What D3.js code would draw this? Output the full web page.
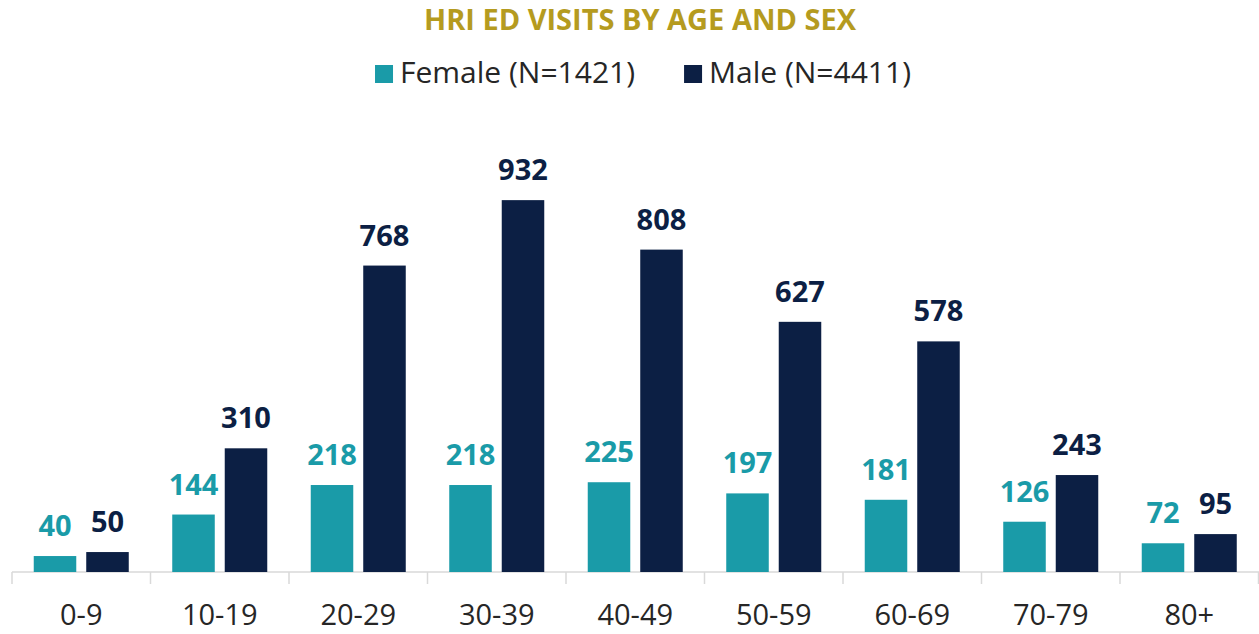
<!DOCTYPE html>
<html>
<head>
<meta charset="utf-8">
<script src="https://cdn.jsdelivr.net/npm/d3@7"></script>
<style>
  html, body { margin: 0; padding: 0; background: #ffffff; }
  svg { display: block; }
</style>
</head>
<body>
<svg id="chart" width="1259" height="634"></svg>
<script>
const title = "HRI ED VISITS BY AGE AND SEX";
const categories = ["0-9", "10-19", "20-29", "30-39", "40-49", "50-59", "60-69", "70-79", "80+"];
const seriesNames = ["Female (N=1421)", "Male (N=4411)"];
const femaleValues = [40, 144, 218, 218, 225, 197, 181, 126, 72];
const maleValues = [50, 310, 768, 932, 808, 627, 578, 243, 95];
const seriesColors = ["#1a9ba8", "#0c1f44"];

const series = [
  { name: seriesNames[0], values: femaleValues, color: seriesColors[0] },
  { name: seriesNames[1], values: maleValues, color: seriesColors[1] }
];

const W = 1259, H = 634;
const svg = d3.select("#chart");
const FONT = "'Open Sans', 'Liberation Sans', sans-serif";

const x0 = d3.scaleBand().domain(categories).range([12, 1258.5])
  .paddingInner(0.314).paddingOuter(0.157).align(0.5);
const x1 = d3.scaleBand().domain(series.map(s => s.name)).range([0, x0.bandwidth()])
  .paddingInner(0.19).paddingOuter(0);
const y = d3.scaleLinear().domain([0, 1000]).range([572, 173]);

// Title
svg.append("text")
  .attr("x", 640).attr("y", 30)
  .attr("text-anchor", "middle")
  .style("font-family", FONT).style("font-weight", 700).style("font-size", "29px")
  .style("fill", "#b59b1f")
  .text(title);

// Legend
const legend = svg.append("g");
let lx = 0;
series.forEach((s, i) => {
  const g = legend.append("g").attr("transform", `translate(${lx},0)`);
  g.append("rect").attr("x", 0).attr("y", 65).attr("width", 18).attr("height", 18).attr("fill", s.color);
  const t = g.append("text").attr("x", 25).attr("y", 83)
    .style("font-family", FONT).style("font-size", "30px").style("fill", "#262626")
    .text(s.name);
  lx += 25 + t.node().getComputedTextLength() + 49;
});
const legendWidth = lx - 49;
legend.attr("transform", `translate(${643 - legendWidth / 2},0)`);

// Axis
const xAxis = d3.axisBottom(x0).tickSize(0).tickPadding(0);
const axisG = svg.append("g").attr("transform", `translate(0,${y(0)})`);
axisG.append("line").attr("x1", 12).attr("x2", 1259).attr("y1", 0).attr("y2", 0)
  .attr("stroke", "#d9d9d9").attr("stroke-width", 1.5);
// boundary ticks
const boundaries = categories.map(c => x0(c) - x0.step() * x0.paddingInner() / 2);
boundaries.push(boundaries[boundaries.length - 1] + x0.step());
axisG.selectAll("line.tick-b").data(boundaries).enter().append("line")
  .attr("class", "tick-b")
  .attr("x1", d => d).attr("x2", d => d).attr("y1", 0).attr("y2", 12)
  .attr("stroke", "#d9d9d9").attr("stroke-width", 1.5);
const ax = axisG.append("g").call(xAxis);
ax.select(".domain").remove();
ax.selectAll(".tick line").remove();
ax.selectAll(".tick text")
  .attr("dy", null).attr("y", 53)
  .style("font-family", FONT).style("font-size", "29px").style("fill", "#262626");

// Bars
const groups = svg.selectAll("g.grp").data(categories).enter().append("g")
  .attr("class", "grp").attr("transform", d => `translate(${x0(d)},0)`);

series.forEach(s => {
  groups.append("rect")
    .attr("x", x1(s.name))
    .attr("y", (d, i) => y(s.values[i]))
    .attr("width", x1.bandwidth())
    .attr("height", (d, i) => y(0) - y(s.values[i]))
    .attr("fill", s.color);
  groups.append("text")
    .attr("x", x1(s.name) + x1.bandwidth() / 2)
    .attr("y", (d, i) => y(s.values[i]) - 20)
    .attr("text-anchor", "middle")
    .style("font-family", FONT).style("font-weight", 700).style("font-size", "29px")
    .style("fill", s.color)
    .text((d, i) => s.values[i]);
});
</script>
</body>
</html>
